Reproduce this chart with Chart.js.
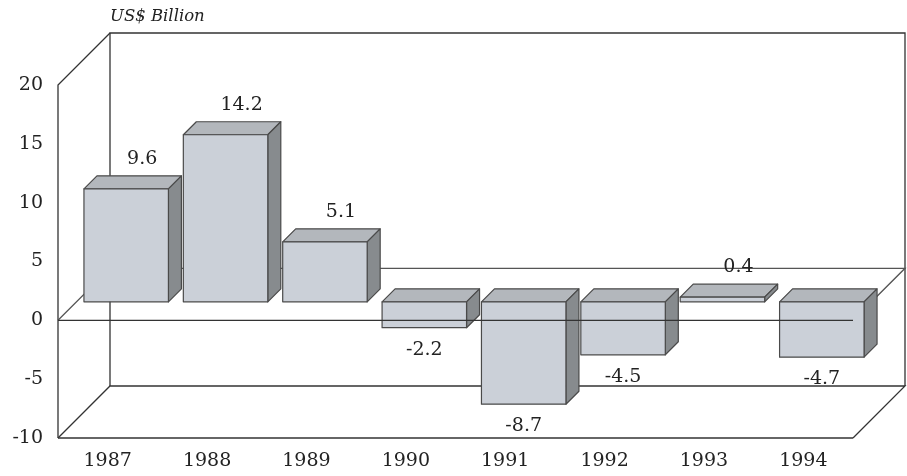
<!DOCTYPE html>
<html>
<head>
<meta charset="utf-8">
<script src="https://cdn.jsdelivr.net/npm/chart.js@4.4.1/dist/chart.umd.min.js"></script>
<style>
  html, body { margin: 0; padding: 0; background: #fff; }
  #wrap { width: 907px; height: 476px; }
</style>
</head>
<body>
<div id="wrap"><canvas id="balanceChart" width="907" height="476"></canvas></div>
<script>
const years = ['1987', '1988', '1989', '1990', '1991', '1992', '1993', '1994'];
const balance = [9.6, 14.2, 5.1, -2.2, -8.7, -4.5, 0.4, -4.7];
const yMin = -10;
const yMax = 20;
const yStep = 5;

const SERIF = '"DejaVu Serif", serif';
const INK = '#222';
const EDGE = '#4a4a4a';
const BOX_DEPTH = 52;   // how far the back wall sits behind the front plane
const BAR_SHIFT = 18.5; // bars stand part way into the box
const BAR_DEPTH = 13;   // thickness of each block

function path(ctx, pts, fill) {
    ctx.beginPath();
    ctx.moveTo(pts[0][0], pts[0][1]);
    for (let i = 1; i < pts.length; i++) ctx.lineTo(pts[i][0], pts[i][1]);
    if (fill) {
        ctx.closePath();
        ctx.fillStyle = fill;
        ctx.fill();
    }
    ctx.stroke();
}

const box3d = {
    id: 'box3d',
    beforeDatasetsDraw(chart) {
        const ctx = chart.ctx;
        const { left, right, top, bottom } = chart.chartArea;
        const zero = chart.scales.y.getPixelForValue(0);
        const d = BOX_DEPTH;
        ctx.save();
        ctx.strokeStyle = '#333';
        ctx.lineWidth = 1.3;
        // back wall
        path(ctx, [[left + d, bottom - d], [left + d, top - d], [right + d, top - d], [right + d, bottom - d]]);
        // floor
        path(ctx, [[left, bottom], [left + d, bottom - d], [right + d, bottom - d], [right, bottom]]);
        path(ctx, [[left, bottom], [right, bottom]]);
        // left side
        path(ctx, [[left, bottom], [left, top], [left + d, top - d]]);
        // zero plane, back part
        ctx.strokeStyle = '#555';
        path(ctx, [[left, zero], [left + d, zero - d], [right + d, zero - d], [right, zero]]);
        ctx.restore();
    },
    afterDatasetsDraw(chart) {
        const ctx = chart.ctx;
        const { left, right } = chart.chartArea;
        const zero = chart.scales.y.getPixelForValue(0);
        const meta = chart.getDatasetMeta(0);
        const d = BAR_DEPTH;
        ctx.save();
        ctx.strokeStyle = EDGE;
        ctx.lineWidth = 1.2;
        ctx.lineJoin = 'round';
        meta.data.forEach((el) => {
            const w = el.width;
            const x0 = el.x - w / 2 + BAR_SHIFT;
            const x1 = x0 + w;
            const yT = Math.min(el.y, el.base) - BAR_SHIFT;
            const yB = Math.max(el.y, el.base) - BAR_SHIFT;
            path(ctx, [[x0, yT], [x0 + d, yT - d], [x1 + d, yT - d], [x1, yT]], '#b3b7bc');
            path(ctx, [[x1, yT], [x1 + d, yT - d], [x1 + d, yB - d], [x1, yB]], '#878b8e');
            path(ctx, [[x0, yT], [x1, yT], [x1, yB], [x0, yB]], '#cbd0d8');
        });
        // front edge of the zero plane runs across the blocks
        ctx.strokeStyle = '#333';
        ctx.lineWidth = 1.3;
        path(ctx, [[left, zero], [right, zero]]);

        // value labels
        ctx.fillStyle = INK;
        ctx.font = '19px ' + SERIF;
        ctx.textAlign = 'center';
        ctx.textBaseline = 'middle';
        meta.data.forEach((el, i) => {
            const v = balance[i];
            const cx = el.x + BAR_SHIFT;
            if (v >= 0) {
                ctx.fillText(v.toFixed(1), cx + 16, Math.min(el.y, el.base) - BAR_SHIFT - 30);
            } else {
                ctx.fillText(v.toFixed(1), cx, Math.max(el.y, el.base) - BAR_SHIFT + 22);
            }
        });

        // unit caption above the back wall
        ctx.font = 'italic 16.5px ' + SERIF;
        ctx.textAlign = 'left';
        ctx.fillText('US$ Billion', left + BOX_DEPTH, 17);
        ctx.restore();
    }
};

new Chart(document.getElementById('balanceChart'), {
    type: 'bar',
    data: {
        labels: years,
        datasets: [{
            data: balance,
            backgroundColor: 'rgba(0,0,0,0)',
            borderWidth: 0,
            barPercentage: 0.85,
            categoryPercentage: 1
        }]
    },
    options: {
        responsive: false,
        animation: false,
        layout: { padding: { top: 85, right: 54, left: 0, bottom: 0 } },
        plugins: { legend: { display: false }, tooltip: { enabled: false } },
        scales: {
            x: {
                grid: { display: false, drawTicks: false },
                border: { display: false },
                ticks: { color: INK, font: { family: SERIF, size: 19 }, padding: 12, maxRotation: 0 },
                afterFit(scale) { scale.height = 38; }
            },
            y: {
                min: yMin,
                max: yMax,
                grid: { display: false, drawTicks: false },
                border: { display: false },
                ticks: { stepSize: yStep, color: INK, font: { family: SERIF, size: 19 }, padding: 15 },
                afterFit(scale) { scale.width = 58; }
            }
        }
    },
    plugins: [box3d]
});
</script>
</body>
</html>
